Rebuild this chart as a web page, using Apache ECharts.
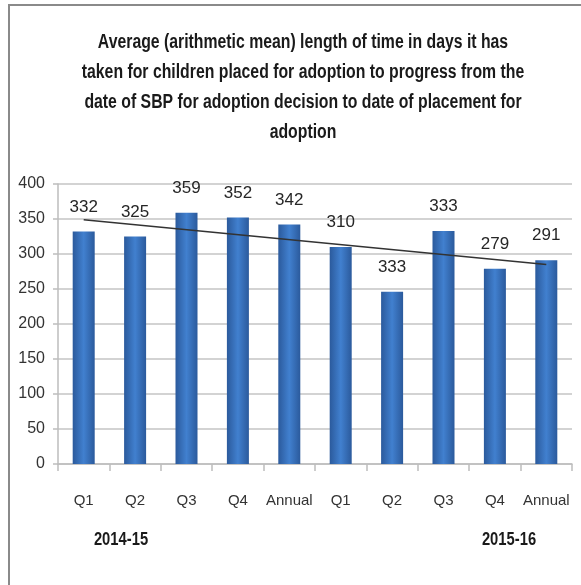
<!DOCTYPE html>
<html>
<head>
<meta charset="utf-8">
<script src="https://cdn.jsdelivr.net/npm/echarts@6/dist/echarts.min.js"></script>
<style>
  html, body { margin: 0; padding: 0; background: #fff; }
  #chart { width: 581px; height: 585px; }
</style>
</head>
<body>
<div id="chart"></div>
<script>
// quarters across two years
var categories = ['Q1', 'Q2', 'Q3', 'Q4', 'Annual', 'Q1', 'Q2', 'Q3', 'Q4', 'Annual']
// bar heights as drawn
var values = [332, 325, 359, 352, 342, 310, 246, 333, 279, 291]
// data labels as printed (Q2 2015-16 label does not match its bar)
var labels = ['332', '325', '359', '352', '342', '310', '333', '333', '279', '291']
// linear trend line, read at first and last category
var trend = [349, '-', '-', '-', '-', '-', '-', '-', '-', 285]
var years = ['2014-15', '2015-16']
var yTicks = [0, 400, 50]

var titleText = 'Average (arithmetic mean) length of time in days it has\n' +
  'taken for children placed for adoption to progress from the\n' +
  'date of SBP for adoption decision to date of placement for\n' +
  'adoption'

// no narrow face installed, so squeeze the free text a bit
var font = '"Liberation Sans", Arial, sans-serif'

var chart = echarts.init(document.getElementById('chart'))
chart.setOption({
  animation: false,
  grid: {
    left: 58,
    right: 9,
    top: 184,
    bottom: 121
  },
  graphic: [
    {
      type: 'rect',
      shape: { x: 9, y: 5, width: 620, height: 620 },
      style: { fill: 'none', stroke: '#8a8a8a', lineWidth: 2 }
    },
    {
      type: 'text',
      x: 303,
      y: 27,
      scaleX: 0.79,
      style: {
        text: titleText,
        textAlign: 'center',
        fontFamily: font,
        fontWeight: 'bold',
        fontSize: 20,
        lineHeight: 30,
        fill: '#1a1a1a'
      }
    },
    {
      type: 'text',
      x: 121,
      y: 540,
      scaleX: 0.82,
      style: {
        text: years[0],
        textAlign: 'center',
        textVerticalAlign: 'middle',
        fontFamily: font,
        fontWeight: 'bold',
        fontSize: 18,
        fill: '#1a1a1a'
      }
    },
    {
      type: 'text',
      x: 509,
      y: 540,
      scaleX: 0.82,
      style: {
        text: years[1],
        textAlign: 'center',
        textVerticalAlign: 'middle',
        fontFamily: font,
        fontWeight: 'bold',
        fontSize: 18,
        fill: '#1a1a1a'
      }
    }
  ],
  xAxis: {
    type: 'category',
    data: categories,
    axisLine: { lineStyle: { color: '#bdbdbd', width: 1.5 } },
    axisTick: { show: true, length: 7, lineStyle: { color: '#bdbdbd', width: 1.5 } },
    axisLabel: {
      interval: 0,
      margin: 29,
      fontFamily: font,
      fontSize: 15,
      color: '#333'
    }
  },
  yAxis: {
    type: 'value',
    min: yTicks[0],
    max: yTicks[1],
    interval: yTicks[2],
    axisLine: { show: true, lineStyle: { color: '#bdbdbd', width: 1.5 } },
    axisTick: { show: true, length: 5, lineStyle: { color: '#bdbdbd', width: 1.5 } },
    splitLine: { lineStyle: { color: '#c4c4c4', width: 1.5 } },
    axisLabel: {
      margin: 13,
      fontFamily: font,
      fontSize: 16,
      color: '#333'
    }
  },
  series: [
    {
      type: 'bar',
      data: values,
      barWidth: 22,
      itemStyle: {
        color: new echarts.graphic.LinearGradient(0, 0, 1, 0, [
          { offset: 0, color: '#2b5a9c' },
          { offset: 0.5, color: '#4180cf' },
          { offset: 1, color: '#2b5a9c' }
        ])
      },
      label: {
        show: true,
        position: 'top',
        distance: 16,
        fontFamily: font,
        fontSize: 17,
        color: '#262626',
        formatter: function (p) {
          return labels[p.dataIndex]
        }
      },
      z: 2
    },
    {
      type: 'line',
      data: trend,
      connectNulls: true,
      symbol: 'none',
      lineStyle: { color: '#333', width: 1.5 },
      z: 3
    }
  ]
})
</script>
</body>
</html>
